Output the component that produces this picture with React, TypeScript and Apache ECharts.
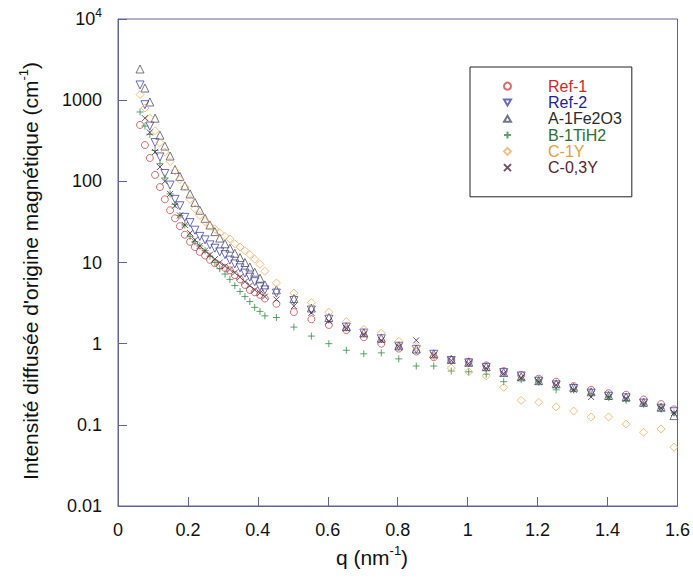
import React, { useEffect, useRef } from "react";
import * as echarts from "echarts";

const qSteep = [0.063, 0.077, 0.091, 0.106, 0.12, 0.134, 0.149, 0.163, 0.177, 0.191, 0.206, 0.22, 0.234, 0.249, 0.263, 0.277, 0.291, 0.306, 0.32, 0.334, 0.349, 0.363, 0.377, 0.391, 0.406, 0.42];
const qTail = [0.453, 0.503, 0.553, 0.603, 0.653, 0.703, 0.753, 0.803, 0.853, 0.903, 0.953, 1.003, 1.053, 1.103, 1.153, 1.203, 1.253, 1.303, 1.353, 1.403, 1.453, 1.503, 1.553, 1.59];

const ref1Steep = [495, 280, 194, 120, 85, 60, 44, 35, 28, 22, 18, 15.5, 13.5, 12.2, 10.8, 9.8, 9.2, 8.6, 8.0, 7.0, 6.2, 5.3, 4.6, 4.3, 4.0, 3.6];
const ref1Tail = [3.1, 2.45, 2.0, 1.7, 1.47, 1.2, 1.0, 0.87, 0.8, 0.68, 0.63, 0.6, 0.54, 0.46, 0.41, 0.37, 0.34, 0.3, 0.27, 0.245, 0.235, 0.205, 0.18, 0.155];

const ref2Steep = [1540, 880, 480, 300, 200, 125, 90, 60, 50, 36, 31, 25, 21, 19, 16.5, 15, 13.5, 12.5, 10.7, 9.6, 8.6, 7.4, 6.6, 5.8, 5.0, 4.6];
const ref2Tail = [4.2, 3.4, 2.6, 2.0, 1.6, 1.35, 1.15, 0.93, 0.85, 0.74, 0.62, 0.58, 0.51, 0.44, 0.4, 0.345, 0.31, 0.28, 0.245, 0.225, 0.215, 0.185, 0.16, 0.145];

const feSteep = [2420, 1410, 950, 600, 370, 272, 205, 140, 115, 88, 70, 55, 44, 35, 29, 24, 20, 17, 15, 13, 11.5, 10, 8.8, 7.6, 6.4, 5.3];
const feTail = [4.6, 3.6, 2.75, 2.1, 1.62, 1.36, 1.17, 0.94, 0.86, 0.75, 0.64, 0.59, 0.52, 0.44, 0.39, 0.35, 0.32, 0.29, 0.255, 0.23, 0.22, 0.19, 0.165, 0.13];

const tiSteep = [715, 480, 380, 240, 165, 110, 70, 52, 38, 29, 21, 18, 16, 14, 12, 10, 8.4, 7.2, 6.2, 5.2, 4.4, 3.8, 3.3, 2.8, 2.5, 2.2];
const tiTail = [2.1, 1.6, 1.24, 1.0, 0.83, 0.75, 0.77, 0.65, 0.53, 0.53, 0.46, 0.45, 0.42, 0.34, 0.36, 0.34, 0.27, 0.27, 0.24, 0.22, 0.2, 0.18, 0.16, 0.14];

const c1ySteep = [1170, 800, 600, 420, 300, 230, 175, 135, 105, 85, 60, 46, 38, 32, 28, 26, 23, 21, 19.5, 17, 15.5, 14, 12.5, 11, 9.5, 7.8];
const c1yTail = [5.6, 4.2, 3.2, 2.45, 1.87, 1.5, 1.35, 1.07, 0.92, 0.7, 0.5, 0.45, 0.4, 0.29, 0.2, 0.19, 0.166, 0.148, 0.125, 0.125, 0.102, 0.081, 0.089, 0.053];

const c03ySteep = [null, 600, 400, 230, 150, 100, 70, 50, 38, 29, 23, 19, 16, 14, 12.5, 11, 10, 9, 8.2, 7.5, 6.6, 5.8, 5.2, 4.6, 4.2, 3.8];
const c03yTail = [3.5, 2.9, 2.4, 1.9, 1.55, 1.3, 1.1, 0.92, 1.1, 0.72, 0.62, 0.57, 0.5, 0.43, 0.38, 0.34, 0.31, 0.27, 0.22, 0.22, 0.21, 0.18, 0.16, 0.14];

const seriesNames = ["Ref-1", "Ref-2", "A-1Fe2O3", "B-1TiH2", "C-1Y", "C-0,3Y"];
const xTickLabels = ["0", "0.2", "0.4", "0.6", "0.8", "1", "1.2", "1.4", "1.6"];
const yTickLabels = ["0.01", "0.1", "1", "10", "100", "1000", "{a|10}{s|4}"];

const FONT = "Liberation Sans, Arial, Helvetica, sans-serif";
const AXIS = "#62629a";
const TXT = "#111111";

function build(steep: (number | null)[], tail: (number | null)[]) {
  const out: [number, number][] = [];
  qSteep.forEach((q, i) => {
    const v = steep[i];
    if (v != null) out.push([q, v]);
  });
  qTail.forEach((q, i) => {
    const v = tail[i];
    if (v != null) out.push([q, v]);
  });
  return out;
}

const seriesDefs = [
  { data: build(ref1Steep, ref1Tail), symbol: "circle", size: 7, color: "#cc4a4a", text: "#cc2a2a" },
  { data: build(ref2Steep, ref2Tail), symbol: "path://M0,0L10,0L5,8.66Z", size: 8, color: "#4545b0", text: "#22229a" },
  { data: build(feSteep, feTail), symbol: "path://M5,0L10,8.66L0,8.66Z", size: 8, color: "#50506a", text: "#2a2a2a" },
  { data: build(tiSteep, tiTail), symbol: "path://M5,0L5,10M0,5L10,5", size: 7, color: "#3a8a4a", text: "#2a6e34" },
  { data: build(c1ySteep, c1yTail), symbol: "path://M5,0L10,5L5,10L0,5Z", size: 8, color: "#eeb060", text: "#e8a038" },
  { data: build(c03ySteep, c03yTail), symbol: "path://M0,0L10,10M10,0L0,10", size: 6, color: "#4a2838", text: "#5a2232" },
];

export default function App() {
  const ref = useRef<HTMLDivElement>(null);
  useEffect(() => {
    if (!ref.current) return;
    const chart = echarts.init(ref.current, undefined, { renderer: "svg" });
    const option: any = {
      animation: false,
      backgroundColor: "#ffffff",
      grid: {
        left: 118,
        right: 14,
        top: 19,
        bottom: 77,
        show: true,
        borderColor: AXIS,
        borderWidth: 1,
        backgroundColor: "transparent",
      },
      xAxis: {
        type: "value",
        min: 0,
        max: 1.6,
        interval: 0.2,
        axisLine: { show: true, lineStyle: { color: AXIS, width: 1 } },
        axisTick: { show: true, inside: true, length: 9, lineStyle: { color: AXIS } },
        splitLine: { show: false },
        axisLabel: {
          margin: 15,
          fontSize: 18,
          color: TXT,
          fontFamily: FONT,
          formatter: (v: number) => xTickLabels[Math.round(v / 0.2)] ?? String(v),
        },
      },
      yAxis: {
        type: "log",
        logBase: 10,
        min: 0.01,
        max: 10000,
        axisLine: { show: true, lineStyle: { color: AXIS, width: 1 } },
        axisTick: { show: true, inside: true, length: 9, lineStyle: { color: AXIS } },
        minorTick: { show: false },
        splitLine: { show: false },
        axisLabel: {
          margin: 16,
          fontSize: 18,
          color: TXT,
          fontFamily: FONT,
          formatter: (v: number) => yTickLabels[Math.round(Math.log10(v)) + 2] ?? String(v),
          rich: {
            a: { fontSize: 18, fontFamily: FONT, color: TXT, lineHeight: 24 },
            s: { fontSize: 12, fontFamily: FONT, color: TXT, verticalAlign: "top", lineHeight: 12 },
          },
        },
      },
      legend: {
        orient: "vertical",
        left: 470,
        top: 67,
        padding: [11, 10, 21, 33],
        itemWidth: 7,
        itemHeight: 7,
        itemGap: 0,
        borderColor: "#222",
        borderWidth: 1,
        backgroundColor: "#fff",
        textStyle: { fontFamily: FONT, fontSize: 16, lineHeight: 16.3, padding: [0, 0, 0, 32] },
        data: seriesNames.map((n, i) => ({ name: n, textStyle: { color: seriesDefs[i].text } })),
      },
      graphic: [
        {
          type: "text",
          x: 30,
          y: 271,
          rotation: Math.PI / 2,
          style: {
            text: "Intensité diffusée d'origine magnétique (cm{s|-1})",
            fontSize: 21,
            fontFamily: FONT,
            fill: TXT,
            align: "center",
            verticalAlign: "middle",
            lineHeight: 26,
            rich: { s: { fontSize: 13, fontFamily: FONT, fill: TXT, verticalAlign: "top", lineHeight: 14 } },
          },
        },
        {
          type: "text",
          x: 372,
          y: 557,
          style: {
            text: "q (nm{s|-1})",
            fontSize: 21,
            fontFamily: FONT,
            fill: TXT,
            align: "center",
            verticalAlign: "middle",
            lineHeight: 26,
            rich: { s: { fontSize: 13, fontFamily: FONT, fill: TXT, verticalAlign: "top", lineHeight: 14 } },
          },
        },
      ],
      series: seriesDefs.map((d, i) => ({
        name: seriesNames[i],
        type: "scatter",
        data: d.data,
        symbol: d.symbol,
        symbolSize: d.size,
        itemStyle: { color: "transparent", borderColor: d.color, borderWidth: 1 },
        emphasis: { disabled: true },
      })),
    };
    chart.setOption(option);
    return () => chart.dispose();
  }, []);
  return (
    <div
      ref={ref}
      style={{ position: "fixed", left: 0, top: 0, width: 693, height: 583, background: "#fff" }}
    />
  );
}
